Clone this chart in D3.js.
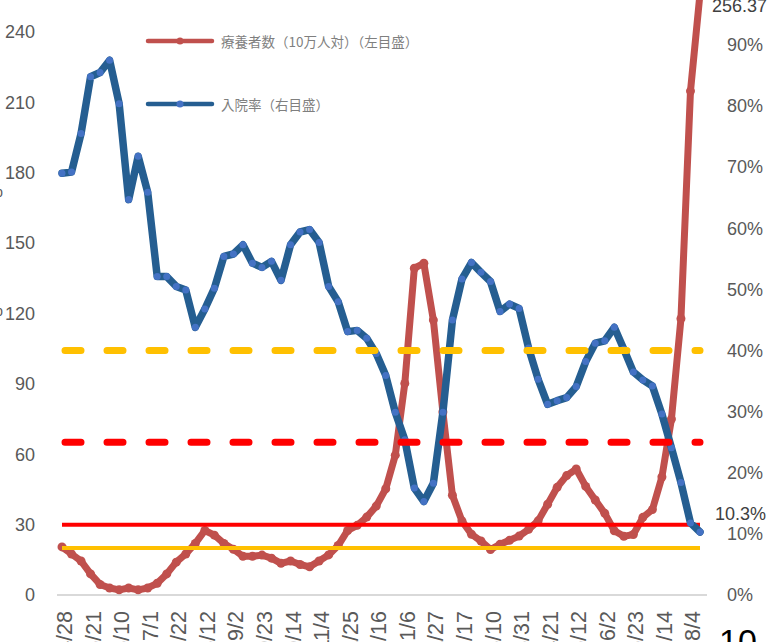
<!DOCTYPE html>
<html><head><meta charset="utf-8">
<script src="https://cdn.jsdelivr.net/npm/d3@7"></script>
<style>html,body{margin:0;padding:0;background:#fff;overflow:hidden}</style>
</head><body>
<svg id="c" width="769" height="642"></svg>
<script>
// Data (weekly points)
const patients = [20.5,17.5,14.5,9,4.5,3,2.2,3,2.2,3,5,9,14,17.5,22,27.5,25.5,22,19.5,16.5,16.5,17,15.7,13.5,14.5,13,12,14.5,17.1,21.1,27.5,29.7,33.2,37.9,45.3,59.6,90.2,139.3,141.4,117.2,78,42.5,31.6,25.9,23.0,19.4,21.6,23.3,25.1,28,31.6,38.7,45.9,50.9,53.7,46.3,40.5,34.8,27.4,25,25.8,33.1,36.4,50.3,75,117.8,214.8,256.37];
const hospRate = [69.0,69.2,75.5,84.8,85.5,87.5,80.4,64.7,71.8,65.9,52.1,52.1,50.5,49.9,43.8,46.8,50.2,55.4,55.8,57.3,54.3,53.6,54.6,51.5,57.3,59.4,59.8,57.7,50.5,48.0,43.1,43.3,42.0,39.5,35.9,29.9,25.4,17.5,15.3,18.3,29.9,45.0,51.7,54.4,52.8,51.3,46.4,47.6,46.9,40.4,35.3,31.2,31.8,32.3,34.1,38.2,41.2,41.6,43.8,40.2,36.5,35.2,34.2,29.6,24.1,18.4,11.8,10.3].map(v=>v/100);
const dateLabels = ["4/28","5/21","6/10","7/1","7/22","8/12","9/2","9/23","10/14","11/4","11/25","12/16","1/6","1/27","2/17","3/10","3/31","4/21","5/12","6/2","6/23","7/14","8/4"];
const leftTicks = [0,30,60,90,120,150,180,210,240];
const rightTicks = [0,0.1,0.2,0.3,0.4,0.5,0.6,0.7,0.8,0.9];
const leftRefs = [{v:30,c:"#FF0000"},{v:20,c:"#FFC000"}];
const rightRefs = [{v:0.40,c:"#FFC000"},{v:0.25,c:"#FF0000"}];
const seriesNames = ["療養者数（10万人対）（左目盛）","入院率（右目盛）"];

const svg = d3.select("#c");
const n = patients.length;
const x = d3.scalePoint().domain(d3.range(n)).range([62, 700]);
const yL = d3.scaleLinear().domain([0,240]).range([595,32]);
const yR = d3.scaleLinear().domain([0,0.9]).range([595,45]);
const font = "'Liberation Sans', Arial, sans-serif";
const gray = "#595959";

// baseline
svg.append("line").attr("x1",57).attr("x2",707).attr("y1",yL(0)).attr("y2",yL(0))
  .attr("stroke","#d9d9d9").attr("stroke-width",2);

// left axis
const gL = svg.append("g").attr("transform","translate(35,0)")
  .call(d3.axisLeft(yL).tickValues(leftTicks).tickSize(0).tickPadding(0));
gL.select(".domain").remove();
gL.selectAll("text").attr("font-family",font).attr("font-size",18).attr("fill",gray);

// right axis
const gR = svg.append("g").attr("transform","translate(727,0)")
  .call(d3.axisRight(yR).tickValues(rightTicks).tickSize(0).tickPadding(0).tickFormat(d3.format(".0%")));
gR.select(".domain").remove();
gR.selectAll("text").attr("font-family",font).attr("font-size",18).attr("fill",gray);

// x labels
const tickIdx = dateLabels.map((d,i)=>i*3);
const gX = svg.append("g");
gX.selectAll("text").data(tickIdx).join("text")
  .attr("transform",d=>`translate(${x(d)+3},611) rotate(-90)`)
  .attr("text-anchor","end").attr("dominant-baseline","central")
  .attr("font-family",font).attr("font-size",21.5).attr("fill",gray)
  .text((d,i)=>dateLabels[i]);

// red series
const lineL = d3.line().x((d,i)=>x(i)).y(d=>yL(d));
svg.append("path").datum(patients).attr("d",lineL).attr("fill","none")
  .attr("stroke","#C0504D").attr("stroke-width",7).attr("stroke-linejoin","round").attr("stroke-linecap","round");
svg.append("g").selectAll("circle").data(patients).join("circle")
  .attr("cx",(d,i)=>x(i)).attr("cy",d=>yL(d)).attr("r",4.5).attr("fill","#C0504D");

// left reference lines
svg.append("g").selectAll("line").data(leftRefs).join("line")
  .attr("x1",x(0)).attr("x2",x(n-1)).attr("y1",d=>yL(d.v)).attr("y2",d=>yL(d.v))
  .attr("stroke",d=>d.c).attr("stroke-width",4);

// blue series
const lineR = d3.line().x((d,i)=>x(i)).y(d=>yR(d));
svg.append("path").datum(hospRate).attr("d",lineR).attr("fill","none")
  .attr("stroke","#255E91").attr("stroke-width",7.5).attr("stroke-linejoin","round").attr("stroke-linecap","round");
svg.append("g").selectAll("circle").data(hospRate).join("circle")
  .attr("cx",(d,i)=>x(i)).attr("cy",d=>yR(d)).attr("r",3.5).attr("fill","#4472C4");

// right reference lines (dashed)
svg.append("g").selectAll("line").data(rightRefs).join("line")
  .attr("x1",x(0)+3).attr("x2",x(n-1)).attr("y1",d=>yR(d.v)).attr("y2",d=>yR(d.v))
  .attr("stroke",d=>d.c).attr("stroke-width",7).attr("stroke-linecap","round")
  .attr("stroke-dasharray","16 26");

// data labels
svg.append("text").attr("x",x(n-1)+12).attr("y",12).attr("font-family",font).attr("font-size",18)
  .attr("fill","#404040").text(d3.format(".2f")(patients[n-1]));
svg.append("text").attr("x",x(n-1)+15).attr("y",yR(hospRate[n-1])-12).attr("font-family",font).attr("font-size",18)
  .attr("fill","#404040").text(d3.format(".1%")(hospRate[n-1]));

// legend
const leg = [{c:"#C0504D",d:"#C0504D",y:41},{c:"#255E91",d:"#4472C4",y:104}];
leg.forEach((l,i)=>{
  svg.append("line").attr("x1",148).attr("x2",212).attr("y1",l.y).attr("y2",l.y)
    .attr("stroke",l.c).attr("stroke-width",4.5).attr("stroke-linecap","round");
  svg.append("circle").attr("cx",180).attr("cy",l.y).attr("r",3.5).attr("fill",l.d);
  svg.append("text").attr("x",221).attr("y",l.y).attr("dominant-baseline","central")
    .attr("font-family","'Noto Sans CJK JP', sans-serif").attr("font-size",13.5).attr("fill","#7f7f7f")
    .text(seriesNames[i]);
});

// cropped stray texts
svg.append("text").attr("x",-13).attr("y",197).attr("font-family",font).attr("font-size",18).attr("fill",gray).text("%");
svg.append("text").attr("x",-13).attr("y",316).attr("font-family",font).attr("font-size",18).attr("fill",gray).text("%");
svg.append("text").attr("x",719).attr("y",653).attr("font-family",font).attr("font-size",34).attr("fill","#000").text("10");
</script>
</body></html>
